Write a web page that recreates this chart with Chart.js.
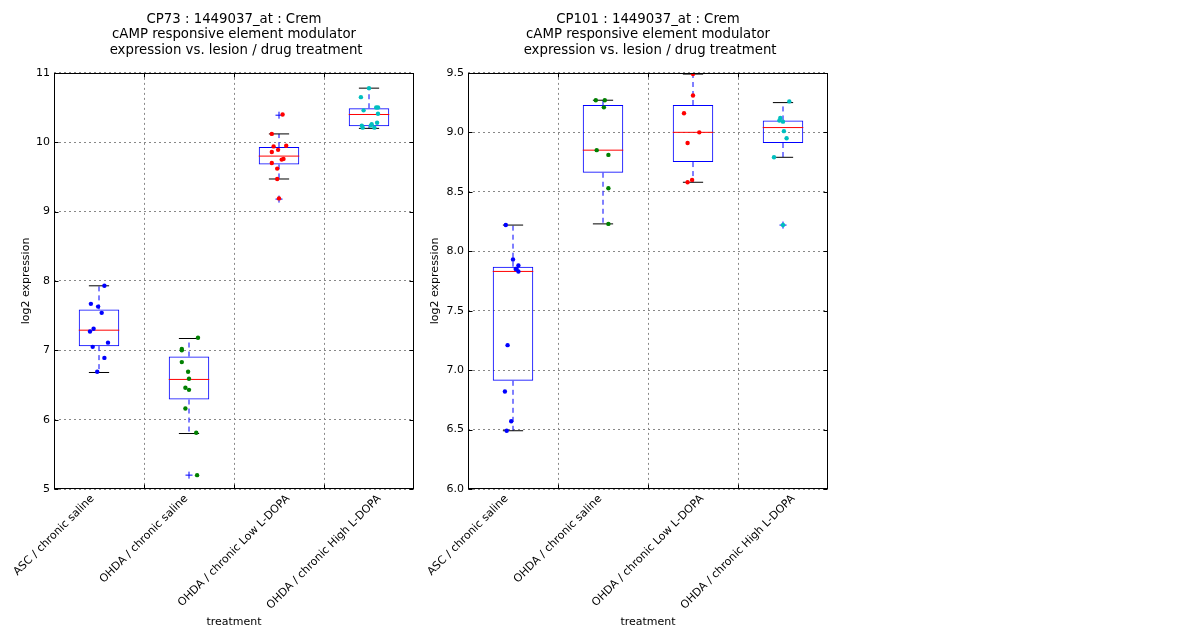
<!DOCTYPE html>
<html>
<head>
<meta charset="utf-8">
<script src="https://cdn.jsdelivr.net/npm/chart.js@4.4.1/dist/chart.umd.min.js"></script>
<style>
  body { margin: 0; background: #fff; width: 1200px; height: 640px; position: relative; overflow: hidden; }
  .panel { position: absolute; top: 0; width: 440px; height: 640px; }
</style>
</head>
<body>
<div class="panel" style="left:0"><canvas id="cp73" width="440" height="640"></canvas></div>
<div class="panel" style="left:414px"><canvas id="cp101" width="440" height="640"></canvas></div>
<script>
// categories shared by both panels
const categories = ['ASC / chronic saline', 'OHDA / chronic saline', 'OHDA / chronic Low L-DOPA', 'OHDA / chronic High L-DOPA'];

// CP73 panel
const cp73Title = ['CP73 : 1449037_at : Crem', 'cAMP responsive element modulator', ' expression vs. lesion / drug treatment'];
const cp73Ticks = [5, 6, 7, 8, 9, 10, 11];
const cp73Q1 = [7.06, 6.29, 9.68, 10.23];
const cp73Median = [7.29, 6.58, 9.80, 10.40];
const cp73Q3 = [7.59, 6.91, 9.93, 10.49];
const cp73WhiskerLow = [6.68, 5.80, 9.47, 10.20];
const cp73WhiskerHigh = [7.93, 7.17, 10.12, 10.78];
const cp73Fliers = [[1, 5.20], [2, 10.39], [2, 9.18]];
const cp73Values = [
  [7.93, 7.67, 7.63, 7.54, 7.31, 7.27, 7.11, 7.05, 6.89, 6.69],
  [7.18, 7.02, 7.00, 6.83, 6.69, 6.59, 6.46, 6.43, 6.16, 5.81, 5.20],
  [10.40, 10.12, 9.95, 9.94, 9.89, 9.86, 9.76, 9.75, 9.70, 9.62, 9.47, 9.19],
  [10.78, 10.65, 10.46, 10.50, 10.50, 10.41, 10.28, 10.26, 10.24, 10.21, 10.21, 10.24]
];
const cp73Jitter = [
  [0.06, -0.09, -0.01, 0.03, -0.06, -0.10, 0.10, -0.07, 0.06, -0.02],
  [0.10, -0.08, -0.08, -0.08, -0.01, 0.00, -0.04, 0.00, -0.04, 0.08, 0.09],
  [0.04, -0.08, 0.08, -0.06, -0.01, -0.08, 0.05, 0.03, -0.08, -0.02, -0.02, 0.00],
  [0.00, -0.09, -0.06, 0.08, 0.10, 0.10, 0.09, 0.03, -0.08, -0.07, 0.06, 0.02]
];

// CP101 panel
const cp101Title = ['CP101 : 1449037_at : Crem', 'cAMP responsive element modulator', ' expression vs. lesion / drug treatment'];
const cp101Ticks = [6.0, 6.5, 7.0, 7.5, 8.0, 8.5, 9.0, 9.5];
const cp101Q1 = [6.91, 8.66, 8.75, 8.91];
const cp101Median = [7.83, 8.85, 9.00, 9.04];
const cp101Q3 = [7.87, 9.23, 9.23, 9.10];
const cp101WhiskerLow = [6.49, 8.23, 8.58, 8.79];
const cp101WhiskerHigh = [8.22, 9.27, 9.49, 9.25];
const cp101Fliers = [[3, 8.22]];
const cp101Values = [
  [8.22, 7.93, 7.88, 7.85, 7.85, 7.83, 7.21, 6.82, 6.57, 6.49],
  [9.27, 9.27, 9.21, 8.85, 8.81, 8.53, 8.23],
  [9.49, 9.31, 9.16, 9.00, 8.91, 8.60, 8.58],
  [9.26, 9.12, 9.10, 9.09, 9.01, 8.95, 8.79, 8.22]
];
const cp101Jitter = [
  [-0.08, 0.00, 0.06, 0.03, 0.04, 0.06, -0.06, -0.09, -0.02, -0.07],
  [-0.08, 0.02, 0.01, -0.07, 0.06, 0.06, 0.06],
  [0.00, 0.00, -0.10, 0.07, -0.06, -0.01, -0.06],
  [0.07, -0.03, -0.04, 0.00, 0.01, 0.04, -0.10, 0.00]
];

const FONT = 'DejaVu Sans';
const GROUP_COLORS = ['#0000ff', '#008000', '#ff0000', '#00bfbf'];
const BOX_WIDTH = 0.45;
const GRID = '#888';

Chart.defaults.font.family = FONT;
Chart.defaults.color = '#000';

// 枠線・内向きの目盛り・回転した x ラベル
const framePlugin = {
  id: 'frame',
  afterDraw(chart) {
    const { ctx, chartArea: a, scales: { x, y } } = chart;
    const L = Math.round(a.left) + 0.5, R = Math.round(a.right) - 0.5;
    const T = Math.round(a.top) + 0.5, B = Math.round(a.bottom) - 0.5;
    ctx.save();
    ctx.setLineDash([]);
    ctx.strokeStyle = '#000';
    ctx.lineWidth = 1;
    ctx.beginPath();
    y.ticks.forEach((t) => {
      const py = Math.round(y.getPixelForValue(t.value)) + 0.5;
      ctx.moveTo(L, py); ctx.lineTo(L + 4, py);
      ctx.moveTo(R, py); ctx.lineTo(R - 4, py);
    });
    x.ticks.forEach((t) => {
      const px = Math.round(x.getPixelForValue(t.value)) + 0.5;
      ctx.moveTo(px, B); ctx.lineTo(px, B - 4);
      ctx.moveTo(px, T); ctx.lineTo(px, T + 4);
    });
    ctx.stroke();
    ctx.strokeRect(L, T, R - L, B - T);

    ctx.font = `11px "${FONT}"`;
    ctx.fillStyle = '#000';
    ctx.textAlign = 'center';
    ctx.textBaseline = 'middle';
    x.ticks.forEach((t, i) => {
      const label = categories[i];
      const w = ctx.measureText(label).width;
      const side = (w + 11) * Math.SQRT1_2;
      ctx.save();
      ctx.translate(x.getPixelForValue(t.value), a.bottom + 4 + side / 2);
      ctx.rotate(-Math.PI / 4);
      ctx.fillText(label, 0, 0);
      ctx.restore();
    });
    ctx.restore();
  }
};

const segment = (x0, x1, y0, y1, color, dash, order) => ({
  type: 'line',
  data: [{ x: x0, y: y0 }, { x: x1, y: y1 }],
  borderColor: color,
  borderWidth: 1,
  borderDash: dash,
  pointRadius: 0,
  fill: false,
  order
});

const buildDatasets = (p) => {
  const sets = [];
  sets.push({
    type: 'bar',
    data: p.q1.map((q, i) => ({ x: i + 1, y: [q, p.q3[i]] })),
    backgroundColor: 'rgba(0,0,0,0)',
    borderColor: '#0000ff',
    borderWidth: 1,
    borderSkipped: false,
    barPercentage: BOX_WIDTH,
    categoryPercentage: 1,
    order: 5
  });
  p.q1.forEach((_, i) => {
    const c = i + 1;
    sets.push(segment(c, c, p.q1[i], p.lo[i], '#0000ff', [5, 4], 4));
    sets.push(segment(c, c, p.q3[i], p.hi[i], '#0000ff', [5, 4], 4));
    sets.push(segment(c - BOX_WIDTH / 4, c + BOX_WIDTH / 4, p.lo[i], p.lo[i], '#000', [], 3));
    sets.push(segment(c - BOX_WIDTH / 4, c + BOX_WIDTH / 4, p.hi[i], p.hi[i], '#000', [], 3));
    sets.push(segment(c - BOX_WIDTH / 2, c + BOX_WIDTH / 2, p.med[i], p.med[i], '#ff0000', [], 2));
  });
  sets.push({
    type: 'scatter',
    data: p.fliers.map(([g, v]) => ({ x: g + 1, y: v })),
    pointStyle: 'cross',
    pointRadius: 3.5,
    borderColor: '#0000ff',
    borderWidth: 1,
    order: 1
  });
  p.values.forEach((vals, g) => {
    sets.push({
      type: 'scatter',
      data: vals.map((v, k) => ({ x: g + 1 + p.jitter[g][k], y: v })),
      pointRadius: 2.2,
      pointBorderWidth: 0,
      backgroundColor: GROUP_COLORS[g],
      borderColor: GROUP_COLORS[g],
      order: 0
    });
  });
  return sets;
};

const createPanel = (id, p) => {
  new Chart(document.getElementById(id), {
    type: 'bar',
    data: { datasets: buildDatasets(p) },
    options: {
      responsive: false,
      animation: false,
      events: [],
      layout: { padding: { left: 0, right: 26, top: 0, bottom: 0 } },
      plugins: {
        legend: { display: false },
        tooltip: { enabled: false },
        title: {
          display: true,
          fullSize: false,
          text: p.title,
          color: '#000',
          font: { size: 13.3, weight: 'normal', lineHeight: 1.15 },
          padding: { top: 12, bottom: 15 }
        }
      },
      scales: {
        x: {
          type: 'linear',
          offset: false,
          min: 0.5,
          max: 4.5,
          afterBuildTicks: (s) => { s.ticks = categories.map((_, i) => ({ value: i + 0.5 })); },
          afterFit: (s) => { s.height = 151; },
          ticks: { display: false },
          grid: { offset: false, color: GRID, lineWidth: 1, drawTicks: false, borderDash: [2, 3] },
          border: { display: false, dash: [2, 3] },
          title: { display: true, text: 'treatment', font: { size: 11 }, padding: { top: 0, bottom: 11 } }
        },
        y: {
          type: 'linear',
          min: p.ticks[0],
          max: p.ticks[p.ticks.length - 1],
          afterBuildTicks: (s) => { s.ticks = p.ticks.map((v) => ({ value: v })); },
          afterFit: (s) => { s.width = 54; },
          ticks: {
            font: { size: 11 },
            padding: 4,
            callback: (v) => p.tickFmt(v)
          },
          grid: { color: GRID, lineWidth: 1, drawTicks: false, borderDash: [2, 3] },
          border: { display: false, dash: [2, 3] },
          title: { display: true, text: 'log2 expression', font: { size: 11 }, padding: { top: p.ylabelPad, bottom: 0 } }
        }
      }
    },
    plugins: [framePlugin]
  });
};

createPanel('cp73', {
  title: cp73Title, ticks: cp73Ticks, tickFmt: (v) => String(v), ylabelPad: 20,
  q1: cp73Q1, med: cp73Median, q3: cp73Q3, lo: cp73WhiskerLow, hi: cp73WhiskerHigh,
  fliers: cp73Fliers, values: cp73Values, jitter: cp73Jitter
});
createPanel('cp101', {
  title: cp101Title, ticks: cp101Ticks, tickFmt: (v) => v.toFixed(1), ylabelPad: 15,
  q1: cp101Q1, med: cp101Median, q3: cp101Q3, lo: cp101WhiskerLow, hi: cp101WhiskerHigh,
  fliers: cp101Fliers, values: cp101Values, jitter: cp101Jitter
});
</script>
</body>
</html>
